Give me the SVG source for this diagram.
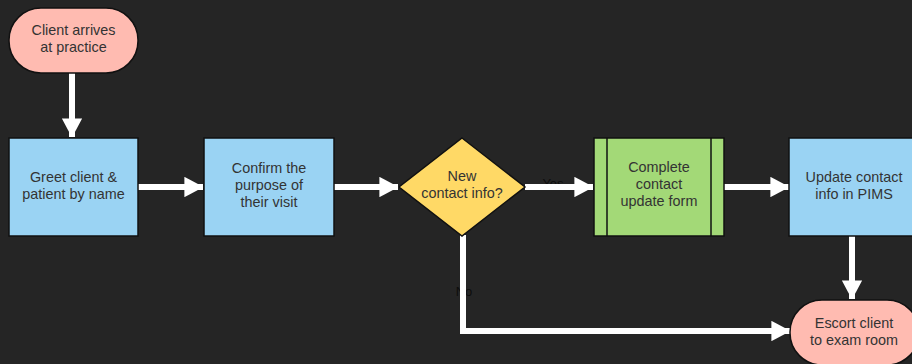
<svg xmlns="http://www.w3.org/2000/svg" width="912" height="364" viewBox="0 0 912 364">
<defs>
<marker id="ah" markerWidth="3.2" markerHeight="3.4" refX="3.1" refY="1.7" orient="auto" markerUnits="strokeWidth">
<path d="M0,0 L3.2,1.7 L0,3.4 Z" fill="#ffffff"/>
</marker>
<style>
.bg{fill:#252525}
.term{fill:#ffbbb1;stroke:#111;stroke-width:1.5}
.proc{fill:#9ad3f3;stroke:#111;stroke-width:1.5}
.dec{fill:#ffd966;stroke:#111;stroke-width:1.5}
.sub{fill:#a3d977;stroke:#111;stroke-width:1.5}
.t{font-family:"Liberation Sans",Arial,sans-serif;font-size:14.4px;fill:#333333;text-anchor:middle}
.lbl{font-family:"Liberation Sans",Arial,sans-serif;font-size:13px;fill:#0d0d0d;text-anchor:middle}
.c{fill:none;stroke:#ffffff;stroke-width:6;marker-end:url(#ah)}
</style>
</defs>
<rect class="bg" x="0" y="0" width="912" height="364"/>
<g id="labels">
<text class="lbl" x="553" y="188">Yes</text>
<text class="lbl" x="464" y="296">No</text>
</g>
<g id="connectors">
<path class="c" d="M72,73 L72,137"/>
<path class="c" d="M138,187 L203,187"/>
<path class="c" d="M334,187 L398,187"/>
<path class="c" d="M525,187 L593,187"/>
<path class="c" d="M724,187 L789,187"/>
<path class="c" d="M852,236 L852,299"/>
<path class="c" d="M463,235 L463,331 L790,331"/>
</g>
<g id="start">
<rect class="term" x="9" y="8" width="129" height="65" rx="32" ry="32"/>
<text class="t" x="73.5" y="35">Client arrives</text>
<text class="t" x="73.5" y="52">at practice</text>
</g>
<g id="greet">
<rect class="proc" x="9" y="138" width="129" height="98"/>
<text class="t" x="73.5" y="182">Greet client &amp;</text>
<text class="t" x="73.5" y="199">patient by name</text>
</g>
<g id="confirm">
<rect class="proc" x="204" y="138" width="130" height="98"/>
<text class="t" x="269" y="173">Confirm the</text>
<text class="t" x="269" y="190">purpose of</text>
<text class="t" x="269" y="207">their visit</text>
</g>
<g id="decision">
<polygon class="dec" points="462,138 525,187 462,236 399,187"/>
<text class="t" x="462" y="181">New</text>
<text class="t" x="462" y="198">contact info?</text>
</g>
<g id="form">
<rect class="sub" x="594" y="138" width="130" height="98"/>
<line x1="607" y1="138" x2="607" y2="236" stroke="#111" stroke-width="1.5"/>
<line x1="711" y1="138" x2="711" y2="236" stroke="#111" stroke-width="1.5"/>
<text class="t" x="659" y="172">Complete</text>
<text class="t" x="659" y="189">contact</text>
<text class="t" x="659" y="206">update form</text>
</g>
<g id="update">
<rect class="proc" x="789" y="138" width="130" height="98"/>
<text class="t" x="854" y="182">Update contact</text>
<text class="t" x="854" y="199">info in PIMS</text>
</g>
<g id="escort">
<rect class="term" x="790" y="300" width="129" height="65" rx="32" ry="32"/>
<text class="t" x="854" y="328">Escort client</text>
<text class="t" x="854" y="345">to exam room</text>
</g>
</svg>
